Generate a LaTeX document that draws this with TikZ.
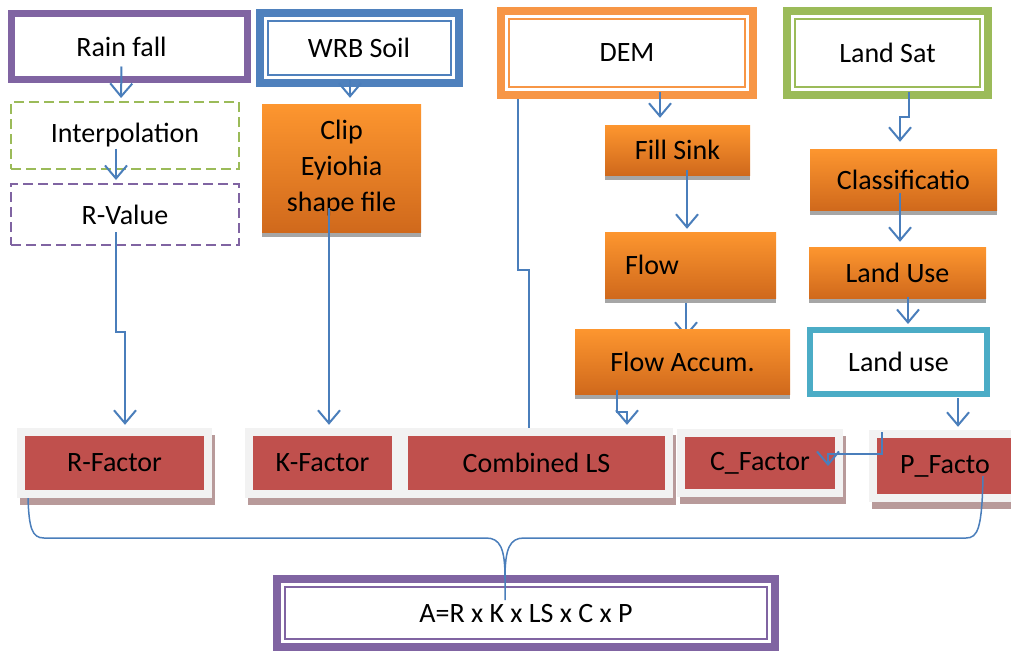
\documentclass[tikz,border=0pt]{standalone}
\usepackage{fontspec}
\setmainfont{Carlito}
\usetikzlibrary{arrows.meta,positioning,shadows,backgrounds}

\definecolor{purp}{HTML}{8064A2}
\definecolor{blu}{HTML}{4F81BD}
\definecolor{org}{HTML}{F79646}
\definecolor{grn}{HTML}{9BBB59}
\definecolor{cyn}{HTML}{4BACC6}
\definecolor{facred}{HTML}{C0504D}
\definecolor{linkblue}{HTML}{4A7EBB}
\definecolor{framegray}{HTML}{F2F2F2}
\definecolor{shadebrown}{HTML}{B89A9A}
\definecolor{shadegray}{HTML}{A6A6A6}
\definecolor{orgtop}{HTML}{FD962F}
\definecolor{orgbot}{HTML}{D0691C}

\begin{document}
\begin{tikzpicture}[x=1pt,y=-1pt,>={Straight Barb[length=13pt,width=22pt]},
		font=\fontsize{28}{36}\selectfont,
		src/.style={draw=#1,line width=8pt,fill=white,inner sep=0pt,
			path picture={\draw[#1,line width=2pt]
				([shift={(8pt,-8pt)}]path picture bounding box.north west) rectangle
				([shift={(-8pt,8pt)}]path picture bounding box.south east);}}]
	\tikzstyle{link}=[->,draw=linkblue,line width=2pt,shorten >=3pt]
	\tikzstyle{brace}=[draw=linkblue,line width=1.5pt]
	\tikzstyle{proc}=[top color=orgtop,bottom color=orgbot,inner sep=0pt,
		drop shadow={shadow xshift=0pt,shadow yshift=-5pt,fill=shadegray,opacity=1}]
	\tikzstyle{dashbox}=[line width=2pt,dash pattern=on 10pt off 5pt,inner sep=0pt]
	\tikzstyle{factor}=[fill=framegray,inner sep=0pt,
		drop shadow={shadow xshift=3pt,shadow yshift=-7pt,fill=shadebrown,opacity=1},
		path picture={\fill[facred]
			([shift={(8pt,-8pt)}]path picture bounding box.north west) rectangle
			([shift={(-8pt,8pt)}]path picture bounding box.south east);}]

	\useasboundingbox (0,0) rectangle (1011,651);

	% sources
	\node[draw=purp,line width=7pt,fill=white,inner sep=0pt,
		minimum width=236pt,minimum height=66pt] (rain) at (129.5,46.5) {\hspace*{-16pt}Rain fall};
	\node[src=blu,minimum width=199pt,minimum height=70pt]  (wrb)  at (359,47.5) {WRB Soil};
	\node[src=org,minimum width=252pt,minimum height=84pt]  (dem)  at (627,53)   {DEM};
	\node[src=grn,minimum width=201pt,minimum height=84pt]  (lsat) at (887.5,53) {Land Sat};

	% processing
	\node[dashbox,draw=grn,minimum width=228pt,minimum height=67pt]  (interp) at (125,135.5) {Interpolation};
	\node[dashbox,draw=purp,minimum width=228pt,minimum height=61pt] (rval)   at (125,214.5) {R-Value};
	\node[proc,minimum width=159pt,minimum height=128pt,align=center] (clip) at (341.5,168)
		{Clip\\Eyiohia\\shape file};
	\node[proc,minimum width=145pt,minimum height=50pt] (fill) at (677.5,150)   {Fill Sink};
	\node[proc,minimum width=171pt,minimum height=66pt,text width=131pt,
		inner xsep=20pt,align=left]                     (flow) at (690.5,265)   {Flow};
	\node[proc,minimum width=215pt,minimum height=65pt] (facc) at (682.5,361.5) {Flow Accum.};
	\node[proc,minimum width=187pt,minimum height=61pt] (cla)  at (903.5,179.5) {Classificatio};
	\node[proc,minimum width=177pt,minimum height=51pt] (luse) at (897.5,272.5) {Land Use};
	\node[draw=cyn,line width=6pt,fill=white,inner sep=0pt,
		minimum width=177pt,minimum height=64pt]        (lu)   at (898.5,362)   {Land use};

	% factors
	\node[factor,minimum width=195pt,minimum height=70pt] (rfac) at (114.5,463) {R-Factor};
	\node[factor,minimum width=155pt,minimum height=70pt] (kfac) at (322.5,463) {K-Factor};
	\node[factor,minimum width=273pt,minimum height=70pt] (cls)  at (536.5,463) {Combined LS};
	\node[factor,minimum width=166pt,minimum height=68pt] (cfac) at (760,463)   {C\_Factor};
	\node[factor,minimum width=152pt,minimum height=72pt] (pfac) at (945,466)   {P\_Facto};

	\node[src=purp,minimum width=498pt,minimum height=68pt] (form) at (526,613) {A=R x K x LS x C x P};

	% links
	\draw[link] ([shift={(-8,20)}]rain.center) -- ([xshift=-4pt]interp.north);
	\draw[link] ([shift={(-9,13)}]interp.center) -- ([xshift=-9pt]rval.north);
	\draw[link] ([shift={(-9,17.5)}]rval.center) -- ++(0,100) -| ([xshift=10.5pt]rfac.north);
	\draw[link,shorten >=6pt] ([shift={(-9,32)}]wrb.center) -- ([xshift=8.5pt]clip.north);
	\draw[link] ([shift={(-12.5,40)}]clip.center) -- ([xshift=6.5pt]kfac.north);
	\draw[link,shorten >=7pt] ([shift={(33,39)}]dem.center) -- ([xshift=-17.5pt]fill.north);
	\draw[link] ([shift={(9.5,20)}]fill.center) -- ([xshift=-3.5pt]flow.north);
	\draw[link] ([shift={(-65.5,28.5)}]facc.center) -- ++(0,22) -| ([xshift=90.5pt]cls.north);
	\draw[link,shorten >=7pt] ([shift={(21.5,39)}]lsat.center) -- ++(0,25) -| ([xshift=-3.5pt]cla.north);
	\draw[link,shorten >=5pt] ([shift={(-3.5,13.5)}]cla.center) -- ([xshift=2.5pt]luse.north);
	\draw[link] ([shift={(10.5,24.5)}]luse.center) -- ([xshift=9.5pt]lu.north);
	\draw[link] ([shift={(59.5,36)}]lu.center) -- ([xshift=13pt]pfac.north);
	\draw[link,shorten >=0pt] ([shift={(-63,-34)}]pfac.center) -- ++(0,22) -| ([shift={(68,3)}]cfac.center);
	\begin{pgfonlayer}{background}
		\draw[link,shorten >=-17pt] ([shift={(-109,39)}]dem.center) -- ++(0,178) -| ([xshift=-7.5pt]cls.north);
		\draw[link,shorten >=-8pt] ([shift={(-4.5,32)}]flow.center) -- ([xshift=3.5pt]facc.north);
	\end{pgfonlayer}

	% joining brace
	\coordinate (join) at ([shift={(-21,-35)}]form.center);
	\draw[brace] ([xshift=-86.5pt]rfac.south) .. controls (29,528) and (32,538) .. (44,538)
		-- (486,538) .. controls (500,538) and (505,548) .. (join) -- ([shift={(-21,-13)}]form.center);
	\draw[brace] ([shift={(38,10)}]pfac.center) .. controls (982,528) and (978,538) .. (966,538)
		-- (524,538) .. controls (510,538) and (505,548) .. (join);
\end{tikzpicture}
\end{document}
